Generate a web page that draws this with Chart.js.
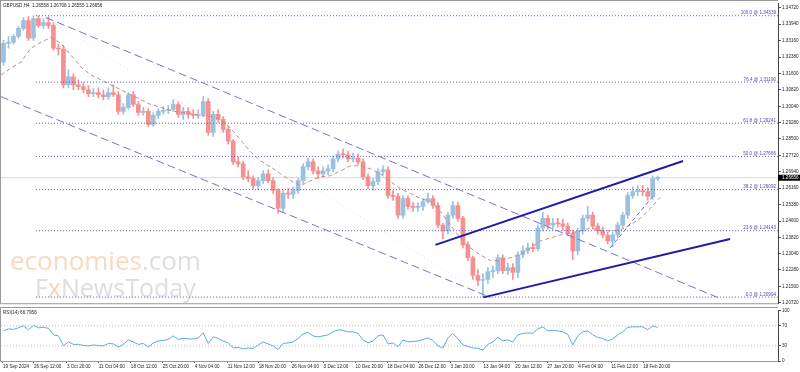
<!DOCTYPE html>
<html>
<head>
<meta charset="utf-8">
<script src="https://cdn.jsdelivr.net/npm/chart.js@4.4.1/dist/chart.umd.min.js"></script>
<style>
  html, body { margin: 0; padding: 0; background: #fff; }
  #wrap { position: relative; width: 800px; height: 372px; overflow: hidden; background: #fff; }
  #main { position: absolute; left: 0; top: 0; }
  #rsi  { position: absolute; left: 0; top: 307px; }
</style>
</head>
<body>
<div id="wrap">
  <canvas id="main" width="800" height="307"></canvas>
  <canvas id="rsi" width="800" height="65"></canvas>
</div>
<script>
// ---- data ----
const header = 'GBPUSD,H4  1.26558 1.26708 1.26555 1.26656';
const rsiTitle = 'RSI(14) 66.7956';
const lastPrice = 1.26656;
const barStep = 5;          // one candle here = ~5 H4 bars of the original
const firstOpen = 1.3214;

const closes = [
  1.3303,1.3308,1.3336,1.3374,1.3411,1.3327,1.3420,1.3388,1.3402,1.3388,
  1.3280,1.3276,1.3106,1.3144,1.3106,1.3097,1.3083,1.3064,1.3069,1.3059,
  1.3050,1.3069,1.3059,1.2980,1.2999,1.3059,1.3013,1.2975,1.2980,1.2919,
  1.2961,1.2980,1.2985,1.2989,1.3013,1.2966,1.2980,1.2966,1.2961,1.2966,
  1.3027,1.2881,1.2966,1.2942,1.2895,1.2839,1.2741,1.2731,1.2670,1.2661,
  1.2628,1.2652,1.2684,1.2652,1.2605,1.2520,1.2591,1.2588,1.2605,1.2652,
  1.2717,1.2741,1.2698,1.2684,1.2698,1.2708,1.2755,1.2778,1.2774,1.2755,
  1.2759,1.2741,1.2670,1.2628,1.2647,1.2694,1.2703,1.2581,1.2577,1.2488,
  1.2567,1.2530,1.2525,1.2530,1.2553,1.2567,1.2534,1.2441,1.2413,1.2488,
  1.2534,1.2473,1.2347,1.2286,1.2202,1.2178,1.2183,1.2220,1.2225,1.2286,
  1.2225,1.2239,1.2216,1.2300,1.2319,1.2333,1.2329,1.2427,1.2473,1.2441,
  1.2450,1.2447,1.2436,1.2403,1.2319,1.2413,1.2473,1.2488,1.2436,1.2413,
  1.2394,1.2366,1.2394,1.2441,1.2488,1.2581,1.2600,1.2605,1.2600,1.2577,
  1.2661,1.2666
];
const highs = [
  1.3317,1.3336,1.3345,1.3383,1.3425,1.3430,1.3434,1.3434,1.3420,1.3430,
  1.3402,1.3299,1.3294,1.3177,1.3158,1.3130,1.3116,1.3102,1.3088,1.3092,
  1.3083,1.3092,1.3106,1.3074,1.3017,1.3069,1.3074,1.3027,1.2999,1.2994,
  1.2975,1.2994,1.3003,1.3008,1.3036,1.3027,1.2999,1.2999,1.2989,1.2989,
  1.3050,1.3041,1.2980,1.2989,1.2956,1.2909,1.2848,1.2764,1.2745,1.2698,
  1.2675,1.2666,1.2698,1.2703,1.2666,1.2614,1.2605,1.2614,1.2623,1.2661,
  1.2731,1.2759,1.2755,1.2717,1.2717,1.2727,1.2769,1.2792,1.2802,1.2792,
  1.2783,1.2778,1.2755,1.2684,1.2661,1.2708,1.2722,1.2717,1.2605,1.2591,
  1.2581,1.2581,1.2548,1.2548,1.2567,1.2591,1.2581,1.2548,1.2450,1.2502,
  1.2553,1.2548,1.2483,1.2361,1.2295,1.2230,1.2211,1.2239,1.2248,1.2300,
  1.2300,1.2262,1.2258,1.2314,1.2342,1.2356,1.2356,1.2441,1.2502,1.2488,
  1.2473,1.2473,1.2469,1.2450,1.2417,1.2427,1.2488,1.2530,1.2502,1.2450,
  1.2431,1.2408,1.2408,1.2455,1.2502,1.2595,1.2623,1.2628,1.2628,1.2619,
  1.2675,1.2675
];
const lows = [
  1.3200,1.3280,1.3299,1.3327,1.3364,1.3317,1.3317,1.3378,1.3374,1.3374,
  1.3270,1.3247,1.3092,1.3092,1.3083,1.3083,1.3069,1.3050,1.3050,1.3045,
  1.3036,1.3036,1.3050,1.2966,1.2966,1.2989,1.3003,1.2961,1.2961,1.2909,
  1.2909,1.2947,1.2966,1.2970,1.2980,1.2952,1.2942,1.2947,1.2947,1.2947,
  1.2956,1.2867,1.2862,1.2928,1.2881,1.2825,1.2727,1.2717,1.2656,1.2647,
  1.2614,1.2609,1.2638,1.2642,1.2591,1.2497,1.2506,1.2567,1.2567,1.2591,
  1.2638,1.2703,1.2684,1.2661,1.2670,1.2680,1.2694,1.2741,1.2759,1.2741,
  1.2741,1.2727,1.2656,1.2614,1.2605,1.2633,1.2680,1.2567,1.2558,1.2473,
  1.2473,1.2516,1.2506,1.2506,1.2511,1.2544,1.2520,1.2427,1.2375,1.2398,
  1.2473,1.2459,1.2333,1.2272,1.2183,1.2155,1.2099,1.2164,1.2192,1.2211,
  1.2211,1.2206,1.2183,1.2192,1.2286,1.2305,1.2314,1.2319,1.2413,1.2422,
  1.2417,1.2431,1.2417,1.2389,1.2277,1.2300,1.2398,1.2459,1.2422,1.2398,
  1.2380,1.2352,1.2338,1.2380,1.2427,1.2473,1.2567,1.2581,1.2581,1.2558,
  1.2563,1.2652
];
const rsi = [
  60,64,63,66,70,62,71,66,67,65,
  52,50,30,38,33,33,31,30,32,31,
  30,35,34,28,33,42,38,33,35,28,
  36,40,41,43,50,43,45,44,44,46,
  56,35,48,45,40,36,26,27,24,26,
  25,32,38,34,30,23,35,36,38,45,
  54,57,50,48,50,52,58,62,61,58,
  58,55,42,36,40,50,52,34,36,28,
  42,38,39,40,43,46,41,30,26,46,
  55,44,32,29,26,25,22,33,38,47,
  40,42,38,52,55,56,55,64,68,60,
  61,60,58,53,32,50,58,60,52,47,
  45,40,44,52,58,67,68,68,68,62,
  70,66.8
];
const maStep = 10;
const ma = [
  1.3153,1.3186,1.3214,1.3280,1.3308,1.3331,1.3303,1.3247,1.3191,1.3153,
  1.3130,1.3106,1.3083,1.3059,1.3036,1.3013,1.2999,1.2984,1.2975,1.2970,
  1.2961,1.2956,1.2942,1.2900,1.2844,1.2788,1.2745,1.2717,1.2684,1.2652,
  1.2628,1.2652,1.2670,1.2675,1.2698,1.2722,1.2722,1.2708,1.2684,1.2647,
  1.2614,1.2591,1.2567,1.2553,1.2506,1.2441,1.2380,1.2333,1.2300,1.2272,
  1.2272,1.2286,1.2300,1.2333,1.2366,1.2380,1.2394,1.2403,1.2413,1.2427,
  1.2417,1.2413,1.2417,1.2441,1.2473,1.2520,1.2572
];

const fibLevels = ['100.0', '76.4', '61.8', '50.0', '38.2', '23.6', '0.0'];
const fibPrices = [1.34339, 1.31190, 1.29241, 1.27666, 1.26092, 1.24143, 1.20994];
const fibStart = 35;

// trend lines: [bar, price] end points
const downUpper = [[45, 1.3425], [722, 1.2089]];
const downLower = [[0, 1.3050], [490, 1.2098]];
const downMid   = [[45, 1.3425], [490, 1.2089]];
const upUpper   = [[435, 1.2347], [683, 1.2745]];
const upLower   = [[483, 1.2098], [730, 1.2375]];
const upShort   = [[610, 1.2333], [655, 1.2591]];

const priceTicks = [1.34720,1.33940,1.33160,1.32380,1.31600,1.30820,1.30040,1.29280,1.28500,
  1.27720,1.26940,1.26160,1.25380,1.24600,1.23820,1.23040,1.22280,1.21500,1.20720];
const dateTicks = [2,33,66,98,130,162,194,227,258,291,323,355,387,418,450,483,515,547,578,611,643];
const dateLabels = ['19 Sep 2024','26 Sep 12:00','3 Oct 20:00','11 Oct 04:00','18 Oct 12:00','25 Oct 20:00',
  '4 Nov 04:00','11 Nov 12:00','18 Nov 20:00','26 Nov 04:00','3 Dec 12:00','10 Dec 20:00','18 Dec 04:00',
  '26 Dec 12:00','3 Jan 20:00','13 Jan 04:00','20 Jan 12:00','27 Jan 20:00','4 Feb 04:00','11 Feb 12:00','18 Feb 20:00'];
const rsiTicks = [100, 70, 30, 0];
const rsiLevels = [70, 30];

// ---- styling ----
const FONT = '"Liberation Sans", Arial, sans-serif';
const SMALL = { size: 4.6, family: FONT };
const BULL = '#9cc0e0', BEAR = '#f59090';
const FIB = '#5e5ecb';
const xMax = 778;

const opens = closes.map((c, i) => i ? closes[i - 1] : firstOpen);
const barX = i => i * barStep + barStep / 2;
const candleCol = closes.map((c, i) => c >= opens[i] ? BULL : BEAR);

function seg(points, color, width, dash, order) {
  return {
    type: 'line', data: points.map(p => ({ x: p[0], y: p[1] })),
    borderColor: color, borderWidth: width, borderDash: dash,
    pointRadius: 0, fill: false, tension: 0, order
  };
}

const mainDecor = {
  id: 'mainDecor',
  beforeDatasetsDraw(chart) {
    const ctx = chart.ctx;
    ctx.save();
    // watermark
    ctx.textBaseline = 'alphabetic';
    ctx.font = '26px "Open Sans", sans-serif';
    ctx.fillStyle = '#f8dac4';
    ctx.fillText('economies', 10, 270);
    let w = ctx.measureText('economies').width;
    ctx.fillStyle = '#dedede';
    ctx.fillText('.com', 10 + w, 270);
    ctx.font = '25px "Open Sans", sans-serif';
    ctx.fillStyle = '#dedede';
    ctx.fillText('F', 35, 297);
    w = ctx.measureText('F').width;
    ctx.fillStyle = '#f6d4bc';
    ctx.fillText('x', 35 + w, 297);
    const w2 = ctx.measureText('x').width;
    ctx.fillStyle = '#dedede';
    ctx.fillText('NewsToday', 35 + w + w2, 297);
    ctx.restore();
  },
  afterDatasetsDraw(chart) {
    const { ctx, chartArea: a, scales: { y } } = chart;
    ctx.save();
    // frame
    ctx.strokeStyle = '#9a9a9a';
    ctx.lineWidth = 1;
    ctx.beginPath();
    ctx.moveTo(0.5, 0); ctx.lineTo(0.5, a.bottom + 0.5); ctx.lineTo(a.right, a.bottom + 0.5);
    ctx.moveTo(0, 0.5); ctx.lineTo(a.right, 0.5);
    ctx.stroke();
    // header
    ctx.font = `${SMALL.size}px ${FONT}`;
    ctx.fillStyle = '#222';
    ctx.textBaseline = 'middle';
    ctx.fillText(header, 3, 6);
    // fib labels
    ctx.fillStyle = '#4c4cb8';
    ctx.textAlign = 'right';
    ctx.textBaseline = 'bottom';
    fibPrices.forEach((p, i) => {
      ctx.fillText(`${fibLevels[i]} @ ${p.toFixed(5)}`, a.right - 2, y.getPixelForValue(p) - 0.5);
    });
    // last price box
    const py = y.getPixelForValue(lastPrice);
    ctx.fillStyle = '#000';
    ctx.fillRect(a.right, py - 3, 800 - a.right, 6);
    ctx.fillStyle = '#fff';
    ctx.textAlign = 'left';
    ctx.textBaseline = 'middle';
    ctx.fillText(lastPrice.toFixed(5), a.right + 4, py);
    ctx.restore();
  }
};

new Chart(document.getElementById('main'), {
  type: 'bar',
  data: {
    datasets: [
      seg([[0, lastPrice], [xMax, lastPrice]], '#c2dfec', 1, [], 9),
      {
        type: 'bar', data: closes.map((c, i) => ({ x: barX(i), y: [lows[i], highs[i]] })),
        backgroundColor: candleCol, barThickness: 1, grouped: false, borderWidth: 0, order: 8
      },
      {
        type: 'bar', data: closes.map((c, i) => ({ x: barX(i), y: [opens[i], c] })),
        backgroundColor: candleCol, barThickness: 4, grouped: false, borderWidth: 0,
        minBarLength: 1, order: 7
      },
      seg(ma.map((v, i) => [i * maStep, v]), '#c58a80', 1, [4, 3], 6),
      ...fibPrices.map(p => seg([[fibStart, p], [xMax, p]], FIB, 1, [1, 2], 5)),
      seg(downMid, '#e6dede', 1, [1, 3], 4),
      seg(downUpper, '#7373d8', 1, [8, 4], 3),
      seg(downLower, '#7373d8', 1, [8, 4], 3),
      seg(upShort, '#6a6ad0', 1, [4, 3], 3),
      seg(upUpper, '#1d1da6', 2, [], 2),
      seg(upLower, '#1d1da6', 2, [], 2)
    ]
  },
  options: {
    responsive: false, animation: false, devicePixelRatio: 1,
    layout: { padding: { left: 1, top: 3, right: 0, bottom: 1 } },
    plugins: { legend: { display: false }, tooltip: { enabled: false } },
    scales: {
      x: { type: 'linear', min: 0, max: xMax, display: false, offset: false },
      y: {
        position: 'right', min: 1.20703, max: 1.34907,
        afterFit(s) { s.width = 22; },
        afterBuildTicks(s) { s.ticks = priceTicks.map(v => ({ value: v })); },
        ticks: { font: SMALL, color: '#222', padding: 1, autoSkip: false, callback: v => v.toFixed(5) },
        grid: { drawOnChartArea: false, tickLength: 3, color: '#555' },
        border: { color: '#444', width: 1 }
      }
    }
  },
  plugins: [mainDecor]
});

const rsiDecor = {
  id: 'rsiDecor',
  afterDatasetsDraw(chart) {
    const { ctx, chartArea: a } = chart;
    ctx.save();
    ctx.strokeStyle = '#9a9a9a';
    ctx.beginPath();
    ctx.moveTo(0.5, 0); ctx.lineTo(0.5, a.bottom + 0.5); ctx.lineTo(a.right, a.bottom + 0.5);
    ctx.moveTo(0, 0.5); ctx.lineTo(a.right, 0.5);
    ctx.stroke();
    ctx.font = `${SMALL.size}px ${FONT}`;
    ctx.fillStyle = '#222';
    ctx.textBaseline = 'middle';
    ctx.fillText(rsiTitle, 3, 5.5);
    ctx.restore();
  }
};

new Chart(document.getElementById('rsi'), {
  type: 'line',
  data: {
    datasets: [
      ...rsiLevels.map(l => seg([[0, l], [xMax, l]], '#bdbdbd', 1, [1, 2], 3)),
      {
        data: rsi.map((v, i) => ({ x: barX(i), y: v })),
        borderColor: '#5aa9f5', borderWidth: 1, pointRadius: 0, fill: false, tension: 0, order: 1
      }
    ]
  },
  options: {
    responsive: false, animation: false, devicePixelRatio: 1,
    layout: { padding: { left: 1, top: 1, right: 0, bottom: 0 } },
    plugins: { legend: { display: false }, tooltip: { enabled: false } },
    scales: {
      x: {
        type: 'linear', min: 0, max: xMax, offset: false,
        afterFit(s) { s.height = 11; },
        afterBuildTicks(s) { s.ticks = dateTicks.map(v => ({ value: v })); },
        ticks: {
          font: SMALL, color: '#222', align: 'start', maxRotation: 0, autoSkip: false, padding: 1,
          callback: (v, i) => dateLabels[i]
        },
        grid: { drawOnChartArea: false, tickLength: 2, color: '#555' },
        border: { color: '#444', width: 1 }
      },
      y: {
        position: 'right', min: 0, max: 100,
        afterFit(s) { s.width = 22; },
        afterBuildTicks(s) { s.ticks = rsiTicks.map(v => ({ value: v })); },
        ticks: { font: SMALL, color: '#222', padding: 1, autoSkip: false },
        grid: { drawOnChartArea: false, tickLength: 3, color: '#555' },
        border: { color: '#444', width: 1 }
      }
    }
  },
  plugins: [rsiDecor]
});
</script>
</body>
</html>
